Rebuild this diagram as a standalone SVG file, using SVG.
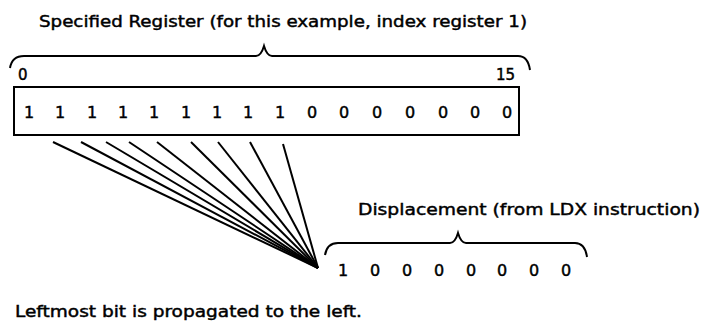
<svg xmlns="http://www.w3.org/2000/svg" width="703" height="334" viewBox="0 0 703 334">
<style>
text{font-family:"DejaVu Sans","Liberation Sans",Arial,sans-serif;fill:#000;stroke:#000;stroke-width:0.45}
.lbl{font-size:16px}
.bit{font-size:16px;text-anchor:middle}
.idx{font-size:15px}
.line{fill:none;stroke:#000;stroke-width:2}
.brace{fill:none;stroke:#000;stroke-width:2}
</style>
<rect width="703" height="334" fill="#fff"/>
<g id="title"><text class="lbl" x="39" y="27" textLength="488" lengthAdjust="spacingAndGlyphs">Specified Register (for this example, index register 1)</text></g>
<g id="register-brace"><path class="brace" d="M10 68 Q12 56 24 56 L256 56 Q261 56 264 46 Q267 56 272 56 L518 56 Q528 56 530 70"/></g>
<g id="register">
<text class="idx" x="18" y="80">0</text>
<text class="idx" x="515" y="80" text-anchor="end">15</text>
<rect x="14" y="87" width="505" height="48" fill="none" stroke="#000" stroke-width="2"/>
<text class="bit" x="29" y="118">1</text>
<text class="bit" x="60" y="118">1</text>
<text class="bit" x="92" y="118">1</text>
<text class="bit" x="123" y="118">1</text>
<text class="bit" x="154" y="118">1</text>
<text class="bit" x="186" y="118">1</text>
<text class="bit" x="217" y="118">1</text>
<text class="bit" x="248" y="118">1</text>
<text class="bit" x="280" y="118">1</text>
<text class="bit" x="312" y="118">0</text>
<text class="bit" x="344" y="118">0</text>
<text class="bit" x="377" y="118">0</text>
<text class="bit" x="410" y="118">0</text>
<text class="bit" x="443" y="118">0</text>
<text class="bit" x="475" y="118">0</text>
<text class="bit" x="507" y="118">0</text>
</g>
<g id="connectors">
<line class="line" x1="53" y1="142" x2="318" y2="268"/>
<line class="line" x1="81" y1="142" x2="318" y2="268"/>
<line class="line" x1="106" y1="142" x2="318" y2="268"/>
<line class="line" x1="129" y1="142" x2="318" y2="268"/>
<line class="line" x1="157" y1="142" x2="318" y2="268"/>
<line class="line" x1="191" y1="142" x2="318" y2="268"/>
<line class="line" x1="218" y1="142" x2="318" y2="268"/>
<line class="line" x1="250" y1="142" x2="318" y2="268"/>
<line class="line" x1="283" y1="144" x2="318" y2="268"/>
</g>
<g id="displacement-label"><text class="lbl" x="358" y="215" textLength="342" lengthAdjust="spacingAndGlyphs">Displacement (from LDX instruction)</text></g>
<g id="displacement-brace"><path class="brace" d="M325 255 Q327 243 338 243 L450 243 Q455 243 458 233 Q461 243 466 243 L575 243 Q585 243 587 257"/></g>
<g id="displacement">
<text class="bit" x="343" y="276">1</text>
<text class="bit" x="375" y="276">0</text>
<text class="bit" x="407" y="276">0</text>
<text class="bit" x="439" y="276">0</text>
<text class="bit" x="471" y="276">0</text>
<text class="bit" x="502" y="276">0</text>
<text class="bit" x="534" y="276">0</text>
<text class="bit" x="566" y="276">0</text>
</g>
<g id="note"><text class="lbl" x="15" y="317" textLength="347" lengthAdjust="spacingAndGlyphs">Leftmost bit is propagated to the left.</text></g>
</svg>
